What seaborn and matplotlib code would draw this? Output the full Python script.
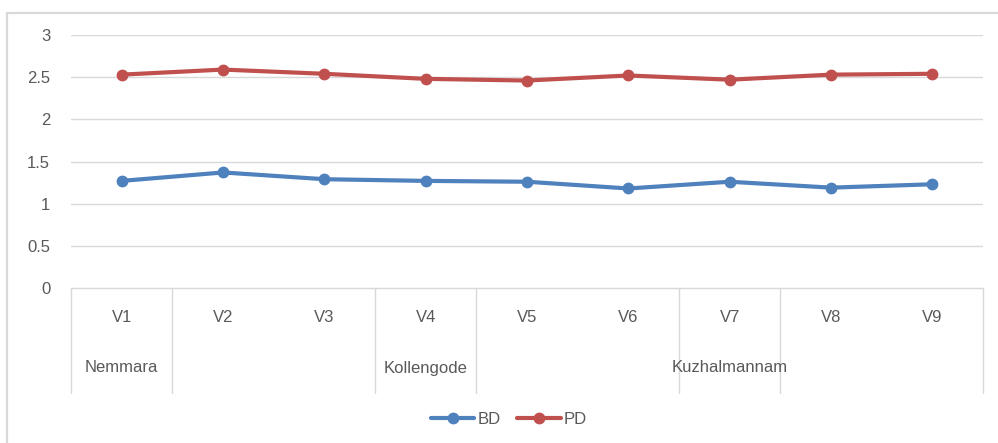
import matplotlib
matplotlib.use("Agg")
import matplotlib.pyplot as plt
from matplotlib.lines import Line2D
from matplotlib import font_manager
import seaborn as sns
import pandas as pd
import numpy as np

# ---- data ----
categories = ["V1", "V2", "V3", "V4", "V5", "V6", "V7", "V8", "V9"]
groups = ["Nemmara", "", "", "Kollengode", "", "", "Kuzhalmannam", "", ""]
bd_values = [1.27, 1.37, 1.29, 1.27, 1.26, 1.18, 1.26, 1.19, 1.23]
pd_values = [2.53, 2.59, 2.54, 2.48, 2.46, 2.52, 2.47, 2.53, 2.54]
series_names = ["BD", "PD"]
y_ticks = [0, 0.5, 1, 1.5, 2, 2.5, 3]
y_tick_labels = ["0", "0.5", "1", "1.5", "2", "2.5", "3"]

colors = {"BD": "#4F81BD", "PD": "#C0504D"}
text_color = "#595959"
grid_color = "#D9D9D9"

sns.set_theme(style="white")
names = {f.name for f in font_manager.fontManager.ttflist}
fam = ["Liberation Sans Narrow", "Liberation Sans", "DejaVu Sans"]
fam = [f for f in fam if f in names] + ["DejaVu Sans"]
plt.rcParams["font.family"] = fam

FS = 12
MS = 8.5
LW = 3.0

W, H = 998, 443
fig = plt.figure(figsize=(W / 100, H / 100), dpi=100)
left, right, top, bottom = 71, 983, 35, 288
ax = fig.add_axes([left / W, 1 - bottom / H, (right - left) / W, (bottom - top) / H])

df = pd.DataFrame({
    "pos": list(range(len(categories))) * 2,
    "value": bd_values + pd_values,
    "series": ["BD"] * len(categories) + ["PD"] * len(categories),
})
sns.lineplot(data=df, x="pos", y="value", hue="series", palette=colors,
             marker="o", markersize=MS, markeredgewidth=0, linewidth=LW,
             ax=ax, legend=False, zorder=3)

n = len(categories)
ax.set_xlim(-0.5, n - 0.5)
ax.set_ylim(0, 3)
ax.set_yticks(y_ticks)
ax.set_yticklabels(y_tick_labels, fontsize=FS, color=text_color)
ax.tick_params(axis="y", length=0, pad=15)
ax.set_xticks([])
ax.set_xlabel("")
ax.set_ylabel("")
for s in ["top", "right", "left"]:
    ax.spines[s].set_visible(False)
ax.spines["bottom"].set_color(grid_color)
ax.spines["bottom"].set_linewidth(1.0)
for t in y_ticks[1:]:
    ax.axhline(t, color=grid_color, linewidth=1.0, zorder=0)

# multi-level category axis
trans = ax.get_xaxis_transform()
axis_h = bottom - top
row1_y = -(318 - bottom) / axis_h
row2_y = -(368 - bottom) / axis_h
sep_bottom = -(393 - bottom) / axis_h
for i, c in enumerate(categories):
    ax.text(i, row1_y, c, transform=trans, ha="center", va="center",
            fontsize=FS, color=text_color)
    if groups[i]:
        ax.text(i, row2_y, groups[i], transform=trans, ha="center", va="center",
                fontsize=FS, color=text_color)
bounds = [-0.5] + [i - 0.5 for i in range(1, n) if groups[i] or groups[i - 1]] + [n - 0.5]
for b in bounds:
    ax.add_line(Line2D([b, b], [0, sep_bottom], transform=trans, color=grid_color,
                       linewidth=1.0, clip_on=False))

# legend
handles = [Line2D([], [], color=colors[s], marker="o", markersize=MS,
                  markeredgewidth=0, linewidth=LW) for s in series_names]
fig.legend(handles, series_names, loc="center", bbox_to_anchor=(509 / W, 1 - 419 / H),
           ncol=2, frameon=False, fontsize=FS, labelcolor=text_color,
           handlelength=2.6, handletextpad=0.2, columnspacing=1.0)

# chart border
fig.add_artist(Line2D([7 / W, 7 / W], [0, 1 - 13 / H], transform=fig.transFigure,
                      color=grid_color, linewidth=1.6))
fig.add_artist(Line2D([7 / W, 1], [1 - 13 / H, 1 - 13 / H], transform=fig.transFigure,
                      color=grid_color, linewidth=1.6))

fig.savefig("out.png", dpi=100)
